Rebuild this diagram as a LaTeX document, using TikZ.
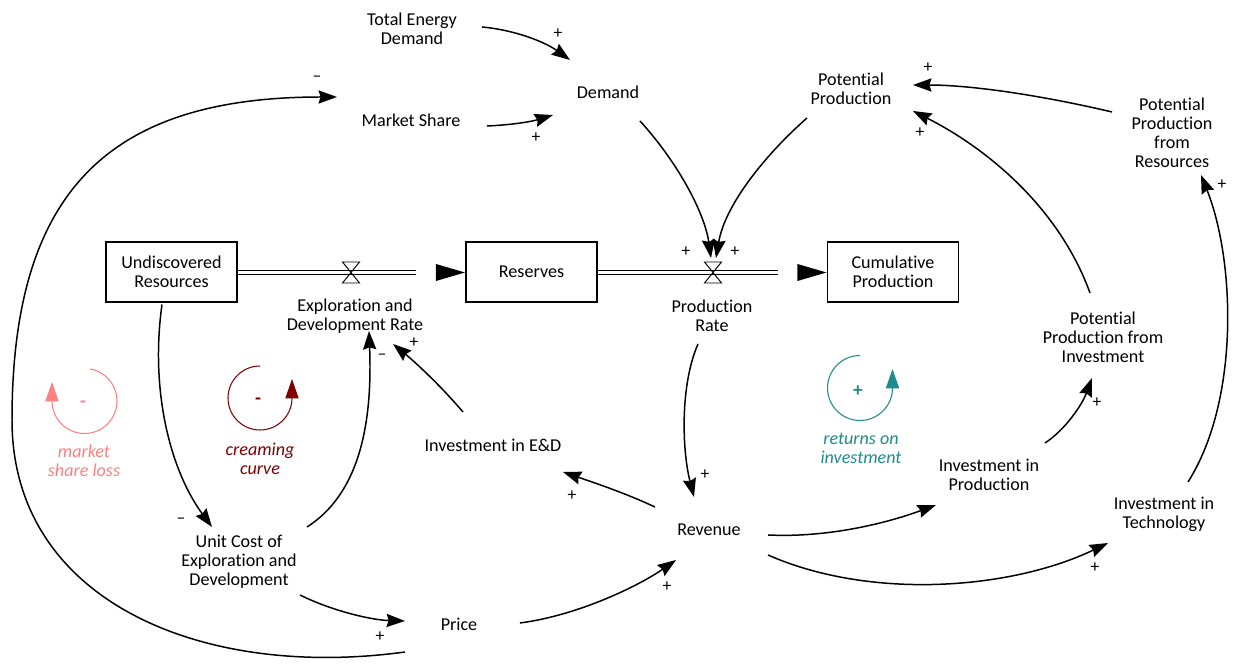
\documentclass[tikz,border=0pt]{standalone}
\usepackage{fontspec}
\setmainfont{Carlito}[Ligatures={NoCommon,NoRare}]
\usetikzlibrary{arrows.meta}
\definecolor{pinkl}{HTML}{FF8080}
\definecolor{darkr}{HTML}{800000}
\definecolor{tealc}{HTML}{1F8C8C}
\tikzset{
  var/.style={align=center, font=\fontsize{10.3}{10.8}\selectfont, inner sep=0pt},
  stock/.style={draw, line width=0.6pt, minimum width=2.62cm, minimum height=1.2cm, align=center, font=\fontsize{10.3}{10.8}\selectfont, inner sep=0pt},
  link/.style={line width=0.85pt, -{Stealth[length=10.5pt,width=7.5pt,inset=1.2pt]}},
  sgn/.style={font=\fontsize{10}{10}\selectfont, inner sep=0pt},
  pipe/.style={double, double distance=1.8pt, line width=0.55pt},
  valveline/.style={line width=0.55pt},
  looparc/.style={line width=0.6pt, -{Triangle[length=11pt,width=7.5pt]}},
  looplabel/.style={align=center, font=\fontsize{10.3}{10.8}\selectfont\itshape, inner sep=0pt},
  loopsign/.style={font=\fontsize{11}{11}\selectfont\bfseries, inner sep=0pt}
}
\begin{document}
\begin{tikzpicture}[x=0.02cm,y=-0.02cm]
\fill[white] (0,0) rectangle (1235,671);
\useasboundingbox (0,0) rectangle (1235,671);

% stocks
\node[stock] (ur) at (171.5,272) {Undiscovered\\Resources};
\node[stock] (res) at (531.5,272) {Reserves};
\node[stock] (cp) at (893,272) {Cumulative\\Production};
\coordinate (v1) at (351,272.5);
\coordinate (v2) at (713,272.5);

% variables
\node[var] (edr) at (355,316) {Exploration and\\Development Rate};
\node[var] (pr) at (712,316) {Production\\Rate};
\node[var] (ted) at (412,29) {Total Energy\\Demand};
\node[var] (ms) at (411,120) {Market Share};
\node[var] (dem) at (608,92) {Demand};
\node[var] (pp) at (851,89) {Potential\\Production};
\node[var] (ppr) at (1172,133) {Potential\\Production\\from\\Resources};
\node[var] (ppi) at (1103,337) {Potential\\Production from\\Investment};
\node[var] (ied) at (493,445) {Investment in E\&D};
\node[var] (rev) at (709,530) {Revenue};
\node[var] (ip) at (989,475) {Investment in\\Production};
\node[var] (it) at (1164,514) {Investment in\\Technology};
\node[var] (uc) at (239,562) {Unit Cost of\\Exploration and\\Development};
\node[var] (price) at (459,624) {Price};

% flows
\draw[pipe] (ur.east |- v1) -- ([xshift=-28]res.west |- v1);
\fill ([xshift=-0.3]res.west |- v1) -- ++(-29,-8.5) -- ++(0,17) -- cycle;
\draw[pipe] (res.east |- v2) -- ([xshift=-28]cp.west |- v2);
\fill ([xshift=-0.3]cp.west |- v2) -- ++(-29,-8.5) -- ++(0,17) -- cycle;
\draw[valveline] (v1) -- ++(-8.5,-10.5) -- ++(17,0) -- cycle;
\draw[valveline] (v1) -- ++(-8.5,10.5) -- ++(17,0) -- cycle;
\draw[valveline] (v2) -- ++(-8.5,-10.5) -- ++(17,0) -- cycle;
\draw[valveline] (v2) -- ++(-8.5,10.5) -- ++(17,0) -- cycle;

% links
\draw[link] ([shift={(70,-2)}]ted.center) .. controls (515,30) and (545,42) .. ([shift={(-38,-32)}]dem.center);
\draw[link] ([shift={(76,6)}]ms.center) .. controls (510,125) and (530,122) .. ([shift={(-55,23)}]dem.center);
\draw[link] ([shift={(-54,28)}]price.center) .. controls (200,680) and (12,600) .. (12,420) .. controls (12,190) and (110,97) .. ([shift={(-74,-23)}]ms.center);
\draw[link] ([shift={(-9.5,2)}]ur.south) .. controls (150,390) and (170,470) .. ([shift={(-27,-35)}]uc.center);
\draw[link] ([shift={(68,-35)}]uc.center) .. controls (365,490) and (372,410) .. ([shift={(14,15)}]edr.center);
\draw[link] ([shift={(-30,-33)}]ied.center) .. controls (440,385) and (415,362) .. ([shift={(38,28)}]edr.center);
\draw[link] ([shift={(32,29)}]dem.center) .. controls (680,165) and (705,215) .. ([shift={(-2,-14.5)}]v2);
\draw[link] ([shift={(-44,29)}]pp.center) .. controls (765,155) and (725,205) .. ([shift={(3,-14.5)}]v2);
\draw[link] ([shift={(-14,28)}]pr.center) .. controls (680,385) and (682,450) .. ([shift={(-15,-33)}]rev.center);
\draw[link] ([shift={(-54,-23)}]rev.center) .. controls (625,493) and (595,483) .. ([shift={(70,27)}]ied.center);
\draw[link] ([shift={(61,-1)}]price.center) .. controls (580,615) and (640,585) .. ([shift={(-33,30)}]rev.center);
\draw[link] ([shift={(61,33)}]uc.center) .. controls (330,610) and (370,620) .. ([shift={(-54,-3)}]price.center);
\draw[link] ([shift={(59,5)}]rev.center) .. controls (830,538) and (890,522) .. ([shift={(-53,30)}]ip.center);
\draw[link] ([shift={(59,25)}]rev.center) .. controls (870,600) and (1010,590) .. ([shift={(-56,29)}]it.center);
\draw[link] ([shift={(56,-32)}]ip.center) .. controls (1065,430) and (1082,405) .. ([shift={(-11,41)}]ppi.center);
\draw[link] ([shift={(-13,-44)}]ppi.center) .. controls (1060,210) and (990,150) .. ([shift={(62,22)}]pp.center);
\draw[link] ([shift={(24,-32)}]it.center) .. controls (1240,400) and (1235,260) .. ([shift={(29,42)}]ppr.center);
\draw[link] ([shift={(-60,-21)}]ppr.center) .. controls (1040,95) and (970,85) .. ([shift={(62,-4)}]pp.center);

% signs
\node[sgn] (s1) at (558,34) {+};
\node[sgn] (s2) at (536,138) {+};
\node[sgn] (s3) at (317,79) {–};
\node[sgn] (s4) at (686,252) {+};
\node[sgn] (s5) at (735,252) {+};
\node[sgn] (s6) at (928,68) {+};
\node[sgn] (s7) at (920,133) {+};
\node[sgn] (s8) at (1222,185) {+};
\node[sgn] (s9) at (382,357) {–};
\node[sgn] (s10) at (414,343) {+};
\node[sgn] (s11) at (181,521) {–};
\node[sgn] (s12) at (705,475) {+};
\node[sgn] (s13) at (572,496) {+};
\node[sgn] (s14) at (667,587) {+};
\node[sgn] (s15) at (380,637) {+};
\node[sgn] (s16) at (1097,403) {+};
\node[sgn] (s17) at (1095,568) {+};

% loops
\draw[looparc, pinkl] (84.5,401) ++(-80:32.5) arc[start angle=-80, end angle=180, radius=32.5] -- ++(0,-19);
\node[loopsign, text=pinkl] (l1s) at (83,404) {-};
\node[looplabel, text=pinkl] (l1) at (84,461) {market\\share loss};

\draw[looparc, darkr] (260,398) ++(-90:32) arc[start angle=-90, end angle=-360, radius=32] -- ++(0,-19);
\node[loopsign, text=darkr] (l2s) at (258,401) {-};
\node[looplabel, text=darkr] (l2) at (260,459) {creaming\\curve};

\draw[looparc, tealc] (860,388) ++(-90:32.5) arc[start angle=-90, end angle=-360, radius=32.5] -- ++(0,-19);
\node[loopsign, text=tealc] (l3s) at (858,391) {+};
\node[looplabel, text=tealc] (l3) at (861,448) {returns on\\investment};
\end{tikzpicture}
\end{document}
